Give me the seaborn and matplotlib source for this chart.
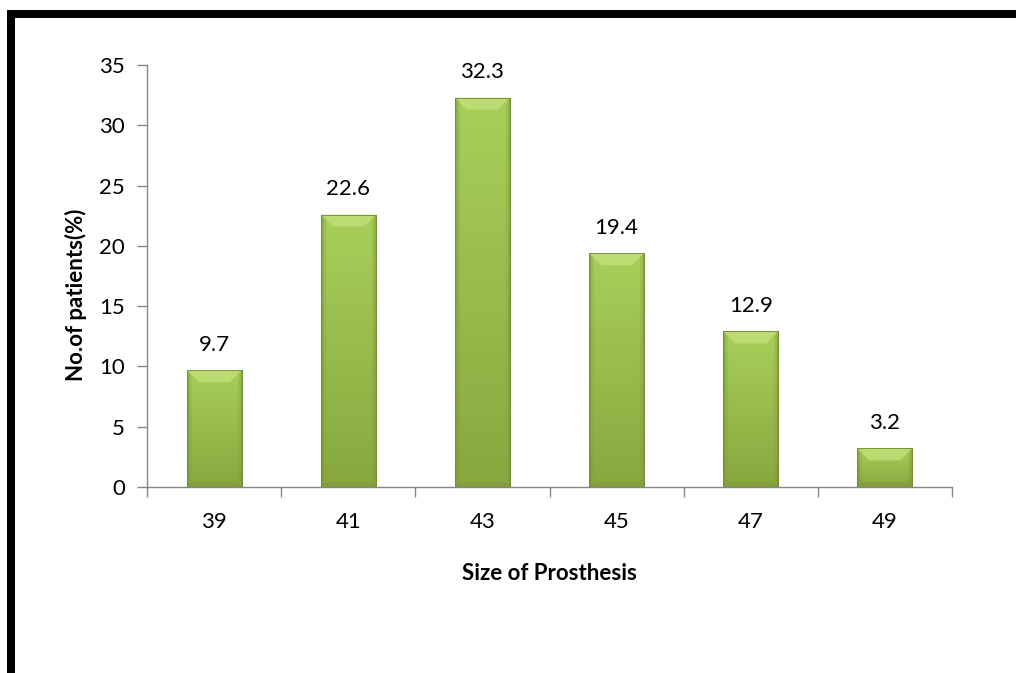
import numpy as np
import pandas as pd
import matplotlib
matplotlib.use("Agg")
import matplotlib.pyplot as plt
from matplotlib.patches import Polygon, Rectangle
from matplotlib.colors import to_rgb
import seaborn as sns

# Prosthesis size distribution
sizes = ["39", "41", "43", "45", "47", "49"]
percent = [9.7, 22.6, 32.3, 19.4, 12.9, 3.2]
y_ticks = [0, 5, 10, 15, 20, 25, 30, 35]

df = pd.DataFrame({"size": sizes, "pct": percent})

sns.set_theme(style="white")
plt.rcParams["font.family"] = ["Lato", "DejaVu Sans"]
plt.rcParams["text.color"] = "black"
plt.rcParams["axes.labelcolor"] = "black"

FS = 16

fig = plt.figure(figsize=(10.16, 6.73), dpi=100)
ax = fig.add_axes([0.1447, 0.2764, 0.7923, 0.627])

sns.barplot(data=df, x="size", y="pct", color="#9bbb59", width=0.41,
            edgecolor="#6e8a33", linewidth=0.6, ax=ax, saturation=1)

ax.set_ylim(0, 35)
ax.set_xlim(-0.5, len(sizes) - 0.5)
ax.set_yticks(y_ticks)

axis_col = "#868686"
for side in ["top", "right"]:
    ax.spines[side].set_visible(False)
for side in ["left", "bottom"]:
    ax.spines[side].set_color(axis_col)
    ax.spines[side].set_linewidth(1.0)

ax.tick_params(axis="y", which="major", left=True, length=7, width=1.0,
               color=axis_col, labelsize=FS, pad=9, labelcolor="black")
ax.tick_params(axis="x", which="major", bottom=False, length=0,
               labelsize=FS, pad=18, labelcolor="black")
# category separators on the x axis
ax.set_xticks(np.arange(-0.5, len(sizes) + 0.5, 1.0), minor=True)
ax.tick_params(axis="x", which="minor", bottom=True, length=7, width=1.0,
               color=axis_col, direction="out")

ax.set_xlabel("Size of Prosthesis", fontsize=FS, fontweight="bold",
              labelpad=22, color="black")
ax.set_ylabel("No.of patients(%)", fontsize=FS, fontweight="bold", color="black")
ax.yaxis.set_label_coords(-0.074, 0.455)

fig.canvas.draw()
inv = ax.transData.inverted()


def px_to_data(dx, dy):
    p0 = inv.transform((0, 0))
    p1 = inv.transform((dx, dy))
    return p1[0] - p0[0], p1[1] - p0[1]


bev_x, bev_y = px_to_data(12, 12)
edge_dark = np.array(to_rgb("#7a9838"))
top_col = np.array(to_rgb("#a8cf5a"))
bot_col = np.array(to_rgb("#88a83f"))
top_light = "#c4e07c"
bottom_dark = "#7d9a3a"

for patch in ax.patches:
    x0, w, h = patch.get_x(), patch.get_width(), patch.get_height()
    if h <= 0:
        continue
    patch.set_facecolor("none")
    # vertical shading from the top of the bar down, darker toward the sides
    ny, nx = 96, 64
    v = np.linspace(0, 1, ny)[:, None, None]
    base = top_col * (1 - v) + bot_col * v
    t = np.linspace(-1, 1, nx)[None, :, None]
    wgt = np.clip((np.abs(t) - 0.78) / 0.22, 0, 1) ** 1.5 * 0.8
    grad = base * (1 - wgt) + edge_dark * wgt
    img = ax.imshow(grad, extent=(x0, x0 + w, 0, h), aspect="auto",
                    origin="upper", zorder=patch.get_zorder() - 0.1,
                    interpolation="bicubic")
    img.set_clip_path(patch)
    by = min(bev_y, h / 3)
    bx = min(bev_x, w / 3)
    top = Polygon([(x0, h), (x0 + w, h), (x0 + w - bx, h - by), (x0 + bx, h - by)],
                  closed=True, facecolor=top_light, edgecolor="none",
                  alpha=0.75, zorder=patch.get_zorder() - 0.05)
    ax.add_patch(top)
    bot = Polygon([(x0, 0), (x0 + w, 0), (x0 + w - bx * 0.4, by * 0.4), (x0 + bx * 0.4, by * 0.4)],
                  closed=True, facecolor=bottom_dark, edgecolor="none",
                  alpha=0.6, zorder=patch.get_zorder() - 0.05)
    ax.add_patch(bot)
    ax.annotate(f"{h:.1f}", (x0 + w / 2, h), xytext=(0, 11),
                textcoords="offset points", ha="center", va="bottom",
                fontsize=FS, color="black")

ax.set_xlim(-0.5, len(sizes) - 0.5)
ax.set_ylim(0, 35)

# heavy frame along the top and left edges of the picture
fig.add_artist(Rectangle((7 / 1016, 0), 8 / 1016, 1 - 10 / 673,
                         transform=fig.transFigure, facecolor="black",
                         edgecolor="none"))
fig.add_artist(Rectangle((7 / 1016, 1 - 18 / 673), 1, 8 / 673,
                         transform=fig.transFigure, facecolor="black",
                         edgecolor="none"))

fig.savefig("out.png", dpi=100, facecolor="white")
